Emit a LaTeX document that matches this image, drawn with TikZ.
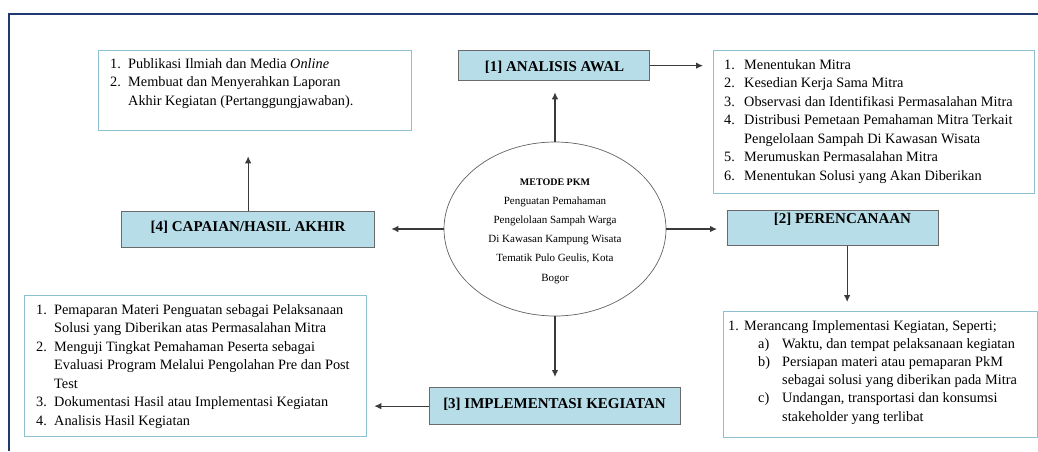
\documentclass[tikz,border=0pt]{standalone}
\usepackage{fontspec}
\setmainfont{Liberation Serif}
\usetikzlibrary{shapes.geometric,arrows.meta}
\definecolor{framec}{HTML}{1F3A6E}
\definecolor{listc}{HTML}{8FC0D2}
\definecolor{labfill}{HTML}{B7DDE8}
\definecolor{labdraw}{HTML}{6A6A6A}
\definecolor{arrc}{HTML}{3A3A3A}
\newcommand\itm[3]{\hangindent=#1\hangafter=1\noindent\makebox[#1][l]{#2}#3\par}
\newcommand\nl{\hfil\break}
\newcommand\listfont{\fontsize{14.3pt}{18.5pt}\selectfont}
\tikzset{
  x=1pt, y=-1pt,
  listbox/.style={draw=listc, line width=1.3pt, rectangle, anchor=north west, inner sep=0pt},
  labbox/.style={draw=labdraw, fill=labfill, line width=1.3pt, rectangle, anchor=north west, inner sep=0pt},
  labtext/.style={anchor=base, inner sep=0pt, font=\fontsize{15pt}{18pt}\selectfont\bfseries},
  listtext/.style={anchor=base west, inner sep=0pt},
  arr/.style={draw=arrc, line width=1.1pt, -{Latex[length=7pt,width=6.5pt]}},
}
\begin{document}
\begin{tikzpicture}
\useasboundingbox (0,0) rectangle (1038,451);
% frame
\draw[framec, line width=2.2pt] (9,451) -- (9,14) -- (1038,14);

% boxes
\node[listbox, minimum width=313pt, minimum height=80pt] (tl) at (98,50) {};
\node[listbox, minimum width=321pt, minimum height=143pt] (tr) at (713,50) {};
\node[listbox, minimum width=342pt, minimum height=141pt] (bl) at (24,295) {};
\node[listbox, minimum width=314pt, minimum height=126pt] (br) at (723,311) {};

\node[labbox, minimum width=191pt, minimum height=30pt] (a1) at (458,50) {};
\node[labbox, minimum width=253pt, minimum height=36pt] (c4) at (121,211) {};
\node[labbox, minimum width=211pt, minimum height=35pt] (c2) at (727,210) {};
\node[labbox, minimum width=251pt, minimum height=37pt] (c3) at (429,387) {};

\node[labtext] (a1t) at (554.5,71) {[1] ANALISIS AWAL};
\node[labtext] (c4t) at (248,231) {[4] CAPAIAN/HASIL AKHIR};
\node[labtext] (c2t) at (842.5,223.5) {[2] PERENCANAAN};
\node[labtext] (c3t) at (554.5,408.5) {[3] IMPLEMENTASI KEGIATAN};

% ellipse
\node[ellipse, draw=arrc!80, line width=0.7pt, minimum width=222pt, minimum height=174pt, inner sep=0pt] (mk) at (555,229) {};
\node[anchor=base, inner sep=0pt] (mkt) at (555,185) {\parbox[t]{200pt}{\centering
  \fontsize{10pt}{19.2pt}\selectfont\textbf{METODE PKM}\\
  \fontsize{11pt}{19.2pt}\selectfont Penguatan Pemahaman\\
  Pengelolaan Sampah Warga\\
  Di Kawasan Kampung Wisata\\
  Tematik Pulo Geulis, Kota\\
  Bogor}};

% list texts
\node[listtext] (tlt) at (110,68) {\parbox[t]{300pt}{\raggedright\listfont
  \itm{18pt}{1.}{Publikasi Ilmiah dan Media \textit{Online}}
  \itm{18pt}{2.}{Membuat dan Menyerahkan Laporan\nl Akhir Kegiatan (Pertanggungjawaban).}}};

\node[listtext] (trt) at (724,69) {\parbox[t]{320pt}{\raggedright\listfont
  \itm{20pt}{1.}{Menentukan Mitra}
  \itm{20pt}{2.}{Kesedian Kerja Sama Mitra}
  \itm{20pt}{3.}{Observasi dan Identifikasi Permasalahan Mitra}
  \itm{20pt}{4.}{Distribusi Pemetaan Pemahaman Mitra Terkait\nl Pengelolaan Sampah Di Kawasan Wisata}
  \itm{20pt}{5.}{Merumuskan Permasalahan Mitra}
  \itm{20pt}{6.}{Menentukan Solusi yang Akan Diberikan}}};

\node[listtext] (blt) at (36,314) {\parbox[t]{340pt}{\raggedright\listfont
  \itm{18pt}{1.}{Pemaparan Materi Penguatan sebagai Pelaksanaan\nl Solusi yang Diberikan atas Permasalahan Mitra}
  \itm{18pt}{2.}{Menguji Tingkat Pemahaman Peserta sebagai\nl Evaluasi Program Melalui Pengolahan Pre dan Post\nl Test}
  \itm{18pt}{3.}{Dokumentasi Hasil atau Implementasi Kegiatan}
  \itm{18pt}{4.}{Analisis Hasil Kegiatan}}};

\node[listtext] (brt) at (728,330) {\parbox[t]{320pt}{\raggedright\fontsize{14.3pt}{18.2pt}\selectfont
  \itm{16pt}{1.}{Merancang Implementasi Kegiatan, Seperti;}
  \leftskip=30pt
  \itm{24pt}{a)}{Waktu, dan tempat pelaksanaan kegiatan}
  \itm{24pt}{b)}{Persiapan materi atau pemaparan PkM\nl sebagai solusi yang diberikan pada Mitra}
  \itm{24pt}{c)}{Undangan, transportasi dan konsumsi\nl stakeholder yang terlibat}}};

% connectors
\draw[arr, shorten >=11pt] (mk.north) -- (mk.north |- a1.south);
\draw[arr, shorten >=10pt] (a1.east) -- (a1.east -| tr.west);
\draw[arr, shorten >=16pt] (mk.west) -- (mk.west -| c4.east);
\draw[arr, shorten >=25pt] (c4.north) -- (c4.north |- tl.south);
\draw[arr, shorten >=10pt] (mk.east) -- (mk.east -| c2.west);
\draw[arr, shorten >=9pt] ([xshift=14pt]c2.south) -- ([xshift=14pt]c2.south |- br.north);
\draw[arr, shorten >=10pt] (mk.south) -- (mk.south |- c3.north);
\draw[arr, shorten >=7pt] (c3.west) -- (c3.west -| bl.east);
\end{tikzpicture}
\end{document}
